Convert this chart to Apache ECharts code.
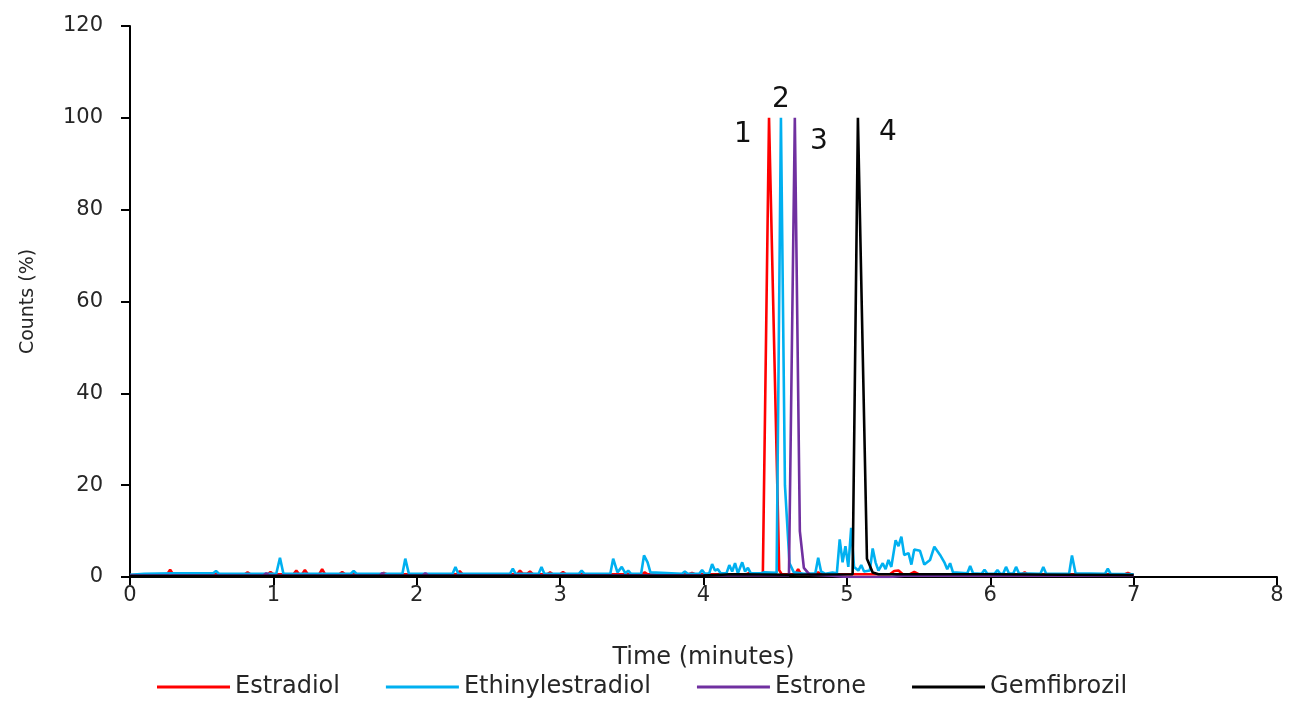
<!DOCTYPE html>
<html>
<head>
<meta charset="utf-8">
<script src="https://cdn.jsdelivr.net/npm/echarts@6/dist/echarts.min.js"></script>
<style>
  html, body { margin: 0; padding: 0; background: #fff; }
  #chart { width: 1290px; height: 704px; }
</style>
</head>
<body>
<div id="chart"></div>
<script>
// Chromatogram traces: [time (min), relative counts (%)]
const seriesNames = ['Estradiol', 'Ethinylestradiol', 'Estrone', 'Gemfibrozil'];
const seriesColors = ['#FF0000', '#00B0F0', '#7030A0', '#000000'];

const estradiol = [
  [0, 0.4], [0.26, 0.6], [0.28, 1.6], [0.30, 0.6], [0.80, 0.6], [0.82, 1.0], [0.84, 0.6],
  [0.96, 0.6], [0.98, 1.1], [1.00, 0.6], [1.14, 0.6], [1.16, 1.4], [1.18, 0.6], [1.20, 0.6],
  [1.22, 1.5], [1.24, 0.6], [1.32, 0.6], [1.34, 1.7], [1.36, 0.6], [1.46, 0.6], [1.48, 1.1],
  [1.50, 0.6], [1.75, 0.6], [1.77, 0.9], [1.79, 0.6], [2.28, 0.6], [2.30, 1.3], [2.32, 0.6],
  [2.70, 0.6], [2.72, 1.4], [2.74, 0.7], [2.77, 0.7], [2.79, 1.2], [2.81, 0.6], [2.91, 0.6],
  [2.93, 1.0], [2.95, 0.6], [3.00, 0.6], [3.02, 1.1], [3.04, 0.6], [3.57, 0.6], [3.59, 1.0],
  [3.61, 0.6], [3.90, 0.6], [3.92, 0.9], [3.94, 0.6], [4.30, 0.6], [4.32, 0.9], [4.34, 0.6],
  [4.414, 0.7], [4.457, 100], [4.528, 1.5], [4.545, 0.6], [4.64, 0.6], [4.66, 1.7], [4.68, 0.6],
  [4.78, 0.6], [4.80, 1.0], [4.82, 0.6], [5.30, 0.6], [5.33, 1.3], [5.36, 1.4], [5.39, 0.6],
  [5.44, 0.6], [5.47, 1.1], [5.50, 0.6], [6.22, 0.6], [6.24, 1.0], [6.26, 0.6], [6.94, 0.6],
  [6.96, 0.9], [6.98, 0.6], [7.0, 0.5]
];

const ethinylestradiol = [
  [0, 0.5], [0.1, 0.7], [0.3, 0.8], [0.58, 0.8], [0.60, 1.3], [0.62, 0.7], [1.02, 0.7],
  [1.046, 4.2], [1.07, 0.7], [1.54, 0.7], [1.56, 1.3], [1.58, 0.7], [1.90, 0.7], [1.92, 4.0],
  [1.945, 0.7], [2.25, 0.7], [2.27, 2.2], [2.29, 0.7], [2.65, 0.7], [2.67, 1.8], [2.69, 0.7],
  [2.85, 0.7], [2.87, 2.2], [2.89, 0.7], [3.13, 0.7], [3.15, 1.4], [3.17, 0.7], [3.35, 0.7],
  [3.37, 4.0], [3.40, 1.0], [3.43, 2.2], [3.455, 0.8], [3.475, 1.4], [3.495, 0.7], [3.565, 0.7],
  [3.585, 4.7], [3.61, 3.2], [3.63, 1.0], [3.85, 0.7], [3.87, 1.2], [3.89, 0.7], [3.97, 0.7],
  [3.99, 1.5], [4.01, 0.7], [4.04, 0.8], [4.06, 2.8], [4.08, 1.4], [4.10, 1.7], [4.12, 0.8],
  [4.16, 0.8], [4.18, 2.6], [4.20, 1.2], [4.22, 3.0], [4.24, 0.8], [4.25, 1.0], [4.27, 3.2],
  [4.29, 1.2], [4.31, 2.0], [4.33, 0.8], [4.40, 0.8], [4.42, 1.0], [4.51, 0.9], [4.54, 100],
  [4.568, 20], [4.60, 3], [4.63, 1.0], [4.70, 0.7], [4.78, 0.8], [4.80, 4.2], [4.82, 1.2],
  [4.85, 0.7], [4.90, 1.0], [4.93, 0.8], [4.95, 8.2], [4.97, 3.2], [4.99, 6.7], [5.01, 2.2],
  [5.03, 10.7], [5.05, 2.2], [5.08, 1.4], [5.10, 2.6], [5.12, 1.2], [5.16, 1.4], [5.18, 6.2],
  [5.20, 3.2], [5.22, 1.4], [5.25, 3.0], [5.27, 1.7], [5.29, 3.7], [5.31, 2.2], [5.34, 8.0],
  [5.36, 6.7], [5.38, 8.8], [5.40, 4.8], [5.43, 5.2], [5.45, 2.7], [5.47, 6.0], [5.51, 5.7],
  [5.54, 2.7], [5.58, 3.7], [5.61, 6.6], [5.65, 4.8], [5.68, 3.2], [5.70, 1.7], [5.72, 3.0],
  [5.74, 1.0], [5.84, 0.8], [5.86, 2.4], [5.88, 0.8], [5.94, 0.7], [5.96, 1.6], [5.98, 0.7],
  [6.03, 0.7], [6.05, 1.5], [6.07, 0.7], [6.09, 0.7], [6.11, 2.2], [6.13, 0.8], [6.16, 0.7],
  [6.18, 2.2], [6.20, 0.8], [6.35, 0.7], [6.37, 2.2], [6.39, 0.7], [6.55, 0.7], [6.57, 4.7],
  [6.595, 0.8], [6.80, 0.7], [6.82, 1.8], [6.84, 0.7], [7.0, 0.6]
];

const estrone = [
  [0, 0.3], [0.93, 0.3], [0.95, 0.8], [0.97, 0.3], [1.74, 0.3], [1.76, 0.8], [1.78, 0.3],
  [2.04, 0.3], [2.06, 0.8], [2.08, 0.3], [4.596, 0.4], [4.637, 100], [4.672, 10], [4.70, 2],
  [4.74, 0.5], [4.90, 0.3], [5.0, 0], [5.3, 0], [5.4, 0.3], [7.0, 0.3]
];

const gemfibrozil = [
  [0, 0.2], [4.0, 0.3], [4.2, 0.6], [4.6, 0.5], [5.04, 0.6], [5.077, 100], [5.14, 4],
  [5.18, 1.0], [5.22, 0.6], [6.0, 0.6], [6.5, 0.5], [7.0, 0.4]
];

// Peak numbering: [series index, time, counts, label, pixel offset]
const peakLabels = [
  [0, 4.457, 100, '1', [-26, 17]],
  [1, 4.54, 100, '2', [0, -18]],
  [2, 4.637, 100, '3', [24, 24]],
  [3, 5.077, 100, '4', [30, 15]]
];

const xTicks = [0, 8, 1];
const yTicks = [0, 120, 20];

const traces = [estradiol, ethinylestradiol, estrone, gemfibrozil];
const FONT = 'DejaVu Sans';
const TEXT = '#262626';

const chart = echarts.init(document.getElementById('chart'), null, { renderer: 'canvas' });

const series = traces.map((data, i) => {
  const marks = peakLabels.filter(p => p[0] === i).map(p => ({
    coord: [p[1], p[2]],
    label: { formatter: p[3], offset: p[4] }
  }));
  return {
    name: seriesNames[i],
    type: 'line',
    data: data,
    showSymbol: false,
    symbol: 'none',
    lineStyle: { color: seriesColors[i], width: 2.6 },
    itemStyle: { color: seriesColors[i] },
    markPoint: {
      symbol: 'circle',
      symbolSize: 0,
      data: marks,
      label: { show: true, color: '#111', fontSize: 28, fontFamily: FONT, position: 'inside' }
    }
  };
});

chart.setOption({
  animation: false,
  backgroundColor: '#fff',
  textStyle: { fontFamily: FONT },
  grid: { left: 130, right: 13, top: 26, bottom: 127 },
  xAxis: {
    type: 'value',
    min: xTicks[0], max: xTicks[1], interval: xTicks[2],
    name: 'Time (minutes)',
    nameLocation: 'middle',
    nameGap: 69,
    nameTextStyle: { color: TEXT, fontSize: 24, fontFamily: FONT },
    axisLine: { lineStyle: { color: '#000', width: 2 } },
    axisTick: { show: true, length: 8, lineStyle: { color: '#000', width: 2 } },
    axisLabel: { color: TEXT, fontSize: 21, margin: 8, fontFamily: FONT },
    splitLine: { show: false }
  },
  yAxis: {
    type: 'value',
    min: yTicks[0], max: yTicks[1], interval: yTicks[2],
    name: 'Counts (%)',
    nameLocation: 'middle',
    nameGap: 92,
    nameTextStyle: { color: TEXT, fontSize: 19, fontFamily: FONT },
    axisLine: { show: true, lineStyle: { color: '#000', width: 2 } },
    axisTick: { show: true, length: 9, lineStyle: { color: '#000', width: 2 } },
    axisLabel: { color: TEXT, fontSize: 21, margin: 27, fontFamily: FONT },
    splitLine: { show: false }
  },
  legend: {
    data: seriesNames,
    bottom: 0,
    left: 152,
    icon: 'rect',
    itemWidth: 73,
    itemHeight: 3,
    itemGap: 46,
    textStyle: { color: TEXT, fontSize: 24, fontFamily: FONT }
  },
  series: series
});
</script>
</body>
</html>
